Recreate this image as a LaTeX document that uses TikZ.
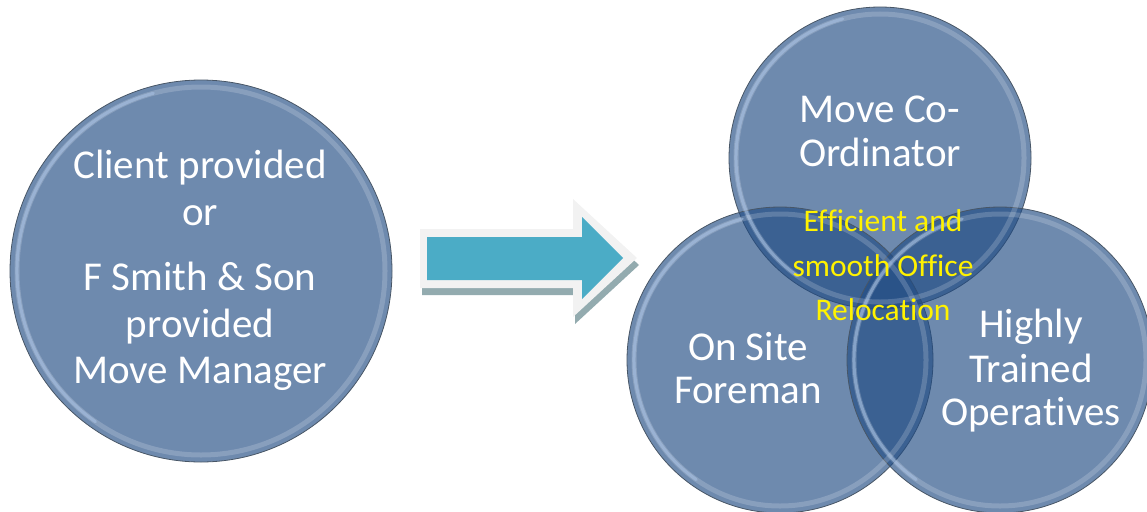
\documentclass[tikz,border=0pt]{standalone}
\usepackage{fontspec}
\setmainfont[Ligatures={NoCommon}]{Carlito}
\definecolor{bubfill}{RGB}{32,75,131}
\definecolor{bubedge}{RGB}{72,86,102}
\definecolor{bubhl}{RGB}{170,196,230}
\definecolor{arrowteal}{HTML}{4BACC6}
\definecolor{arrowrim}{HTML}{F2F2F2}
\definecolor{arrowshadow}{HTML}{93ABAF}
\begin{document}
\begin{tikzpicture}[x=1pt,y=-1pt,
  bub/.style={circle, inner sep=0pt, fill=bubfill, fill opacity=0.65, draw=bubedge, line width=0.8pt},
  rimring/.style={draw=white, draw opacity=0.18, line width=5pt},
  rimhl/.style={draw=bubhl, draw opacity=0.55, line width=3pt, line cap=round},
  wtxt/.style={text=white, font=\fontsize{41}{48}\selectfont, anchor=base, inner sep=0pt},
  ytxt/.style={text=yellow, font=\fontsize{31.5}{38}\selectfont, anchor=base, inner sep=0pt}]
\useasboundingbox (0,0) rectangle (1147,511);
\clip (0,0) rectangle (1147,511);

% left big circle
\node[bub, minimum size=382pt] (mm) at (201,271) {};
\draw[rimring] (mm.center) circle[radius=184pt];
\draw[rimhl] ([shift={(mm.center)}]105:184pt) arc[start angle=105, end angle=235, radius=184pt];

% arrow
\draw[fill=arrowshadow, draw=none, shift={(2,7)}] (420,229) -- (573,229) -- (573,199) -- (637,258) -- (573,317) -- (573,288) -- (420,288) -- cycle;
\draw[fill=arrowrim, draw=none] (420,229) -- (573,229) -- (573,199) -- (637,258) -- (573,317) -- (573,288) -- (420,288) -- cycle;
\draw[fill=arrowteal, draw=none] (427,237) -- (582,237) -- (582,217) -- (623,258) -- (582,299) -- (582,280) -- (427,280) -- cycle;

% venn circles
\node[bub, minimum size=302pt] (co) at (880,158) {};
\node[bub, minimum size=306pt] (fm) at (780,360) {};
\node[bub, minimum size=306pt] (op) at (1000,360) {};
\foreach \c/\r in {co/144, fm/146, op/146}{
  \draw[rimring] (\c.center) circle[radius=\r pt];
  \draw[rimhl] ([shift={(\c.center)}]105:\r pt) arc[start angle=105, end angle=235, radius=\r pt];
}

% texts
\node[wtxt] (l1) at (200,178) {Client provided};
\node[wtxt] (l2) at (200,225) {or};
\node[wtxt] (l3) at (200,290) {F Smith \& Son};
\node[wtxt] (l4) at (200,337) {provided};
\node[wtxt] (l5) at (200,383) {Move Manager};

\node[wtxt] (c1) at (880,122) {Move Co-};
\node[wtxt] (c2) at (880,166) {Ordinator};

\node[ytxt] (y1) at (883,231) {Efficient and};
\node[ytxt] (y2) at (883,276) {smooth Office};
\node[ytxt] (y3) at (883,320) {Relocation};

\node[wtxt] (f1) at (748,360) {On Site};
\node[wtxt] (f2) at (748,403) {Foreman};

\node[wtxt] (o1) at (1031,337) {Highly};
\node[wtxt] (o2) at (1031,382) {Trained};
\node[wtxt] (o3) at (1031,425) {Operatives};
\end{tikzpicture}
\end{document}
